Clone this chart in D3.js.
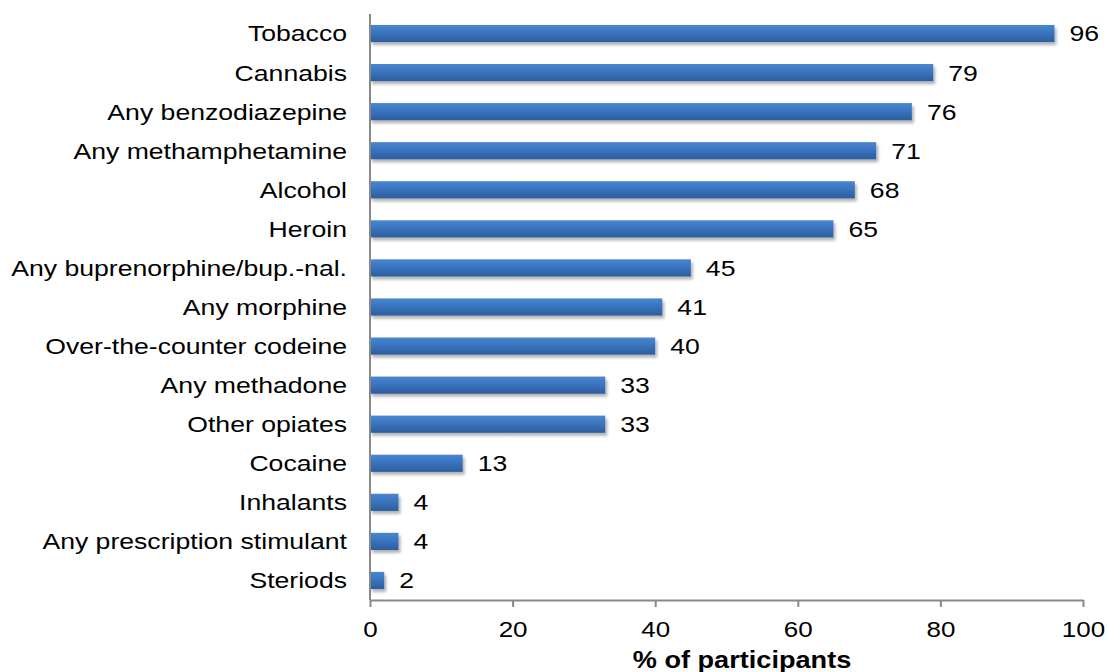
<!DOCTYPE html>
<html>
<head>
<meta charset="utf-8">
<script src="https://cdn.jsdelivr.net/npm/d3@7"></script>
<style>
  html, body { margin: 0; padding: 0; background: #fff; }
  svg { display: block; font-family: "Liberation Sans", Arial, sans-serif; }
</style>
</head>
<body>
<svg id="chart" width="1108" height="672"></svg>
<script>
// Substances used, ordered top to bottom
const substances = [
  "Tobacco", "Cannabis", "Any benzodiazepine", "Any methamphetamine", "Alcohol",
  "Heroin", "Any buprenorphine/bup.-nal.", "Any morphine", "Over-the-counter codeine",
  "Any methadone", "Other opiates", "Cocaine", "Inhalants",
  "Any prescription stimulant", "Steriods"
];
const percents = [96, 79, 76, 71, 68, 65, 45, 41, 40, 33, 33, 13, 4, 4, 2];
const xTicks = [0, 20, 40, 60, 80, 100];
const xTitle = "% of participants";

const svg = d3.select("#chart");
const margin = { left: 370, right: 25, top: 14, bottom: 72 };
const W = 1108, H = 672;
const stretch = 1.18;      // axis text is set slightly wide
const labelStretch = 1.21; // category and value labels

const x = d3.scaleLinear().domain([0, 100]).range([margin.left, W - margin.right]);
const y = d3.scaleBand().domain(substances).range([margin.top, H - margin.bottom]).paddingInner(0.56).paddingOuter(0.28);

const defs = svg.append("defs");
const grad = defs.append("linearGradient").attr("id", "barGrad")
  .attr("x1", 0).attr("y1", 0).attr("x2", 0).attr("y2", 1);
grad.append("stop").attr("offset", "0%").attr("stop-color", "#4a86d0");
grad.append("stop").attr("offset", "45%").attr("stop-color", "#3a74c0");
grad.append("stop").attr("offset", "100%").attr("stop-color", "#2d5d9c");

const shadow = defs.append("filter").attr("id", "barShadow")
  .attr("x", "-10%").attr("y", "-30%").attr("width", "130%").attr("height", "180%");
shadow.append("feGaussianBlur").attr("in", "SourceAlpha").attr("stdDeviation", 1.8);
shadow.append("feOffset").attr("dx", 1.5).attr("dy", 2.5).attr("result", "off");
shadow.append("feComponentTransfer").append("feFuncA").attr("type", "linear").attr("slope", 0.3);
const merge = shadow.append("feMerge");
merge.append("feMergeNode");
merge.append("feMergeNode").attr("in", "SourceGraphic");

// Bars
svg.append("g").selectAll("rect")
  .data(substances)
  .join("rect")
  .attr("x", x(0))
  .attr("y", d => y(d))
  .attr("width", (d, i) => x(percents[i]) - x(0))
  .attr("height", y.bandwidth())
  .attr("fill", "url(#barGrad)")
  .attr("filter", "url(#barShadow)");

// Value labels
svg.append("g").selectAll("text")
  .data(substances)
  .join("text")
  .attr("transform", (d, i) => `translate(${x(percents[i]) + 15},${y(d) + y.bandwidth() / 2}) scale(${labelStretch},1)`)
  .attr("dy", "0.36em")
  .attr("font-size", 22)
  .attr("fill", "#000")
  .text((d, i) => percents[i]);

// Category labels
svg.append("g").selectAll("text")
  .data(substances)
  .join("text")
  .attr("transform", d => `translate(${x(0) - 23},${y(d) + y.bandwidth() / 2}) scale(${labelStretch},1)`)
  .attr("dy", "0.36em")
  .attr("text-anchor", "end")
  .attr("font-size", 22)
  .attr("fill", "#000")
  .text(d => d);

// Vertical axis line
const axisColor = "#898989";
svg.append("line")
  .attr("x1", x(0)).attr("x2", x(0))
  .attr("y1", margin.top).attr("y2", H - margin.bottom)
  .attr("stroke", axisColor).attr("stroke-width", 2);

// Horizontal axis
const xAxis = d3.axisBottom(x).tickValues(xTicks).tickSize(7).tickSizeOuter(0).tickPadding(14);
const gx = svg.append("g").attr("transform", `translate(0,${H - margin.bottom})`).call(xAxis);
gx.select(".domain").attr("stroke", axisColor).attr("stroke-width", 2);
gx.selectAll(".tick line").attr("stroke", axisColor).attr("stroke-width", 2);
gx.selectAll(".tick text").attr("font-size", 22).attr("fill", "#000")
  .attr("font-family", "'Liberation Sans', Arial, sans-serif")
  .attr("transform", `scale(${stretch},1)`);

// Axis title
svg.append("text")
  .attr("transform", `translate(742,668) scale(${stretch},1)`)
  .attr("text-anchor", "middle")
  .attr("font-size", 23)
  .attr("font-weight", "bold")
  .attr("fill", "#000")
  .text(xTitle);
</script>
</body>
</html>
